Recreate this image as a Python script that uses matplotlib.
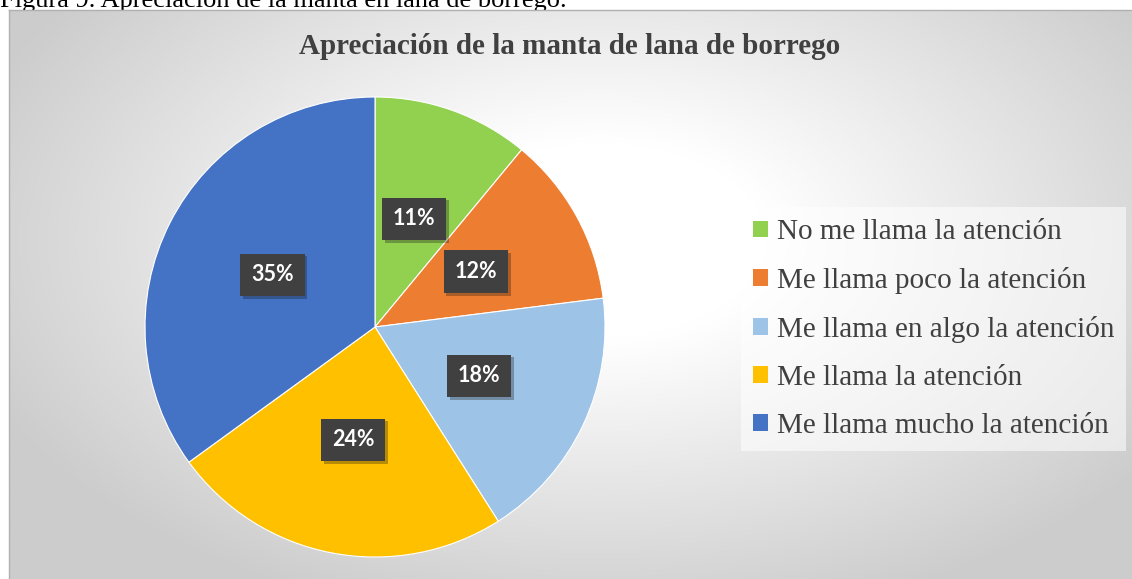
import numpy as np
import matplotlib.pyplot as plt
import matplotlib.patheffects as pe

# Data
categorias = ['No me llama la atención', 'Me llama poco la atención',
              'Me llama en algo la atención', 'Me llama la atención',
              'Me llama mucho la atención']
porcentajes = [11, 12, 18, 24, 35]
colores = ['#92D050', '#ED7D31', '#9DC3E6', '#FFC000', '#4472C4']
titulo = 'Apreciación de la manta de lana de borrego'
leyenda_figura = 'Figura 9. Apreciación de la manta en lana de borrego.'

W, H = 1132, 579
fig = plt.figure(figsize=(W / 100, H / 100), dpi=100)
fig.patch.set_facecolor('white')

# caption (cut off by the chart box, as in the source document)
fig.text(0.0, 1 - 7 / H, leyenda_figura, fontsize=19, family='Liberation Serif',
         color='black', va='baseline', ha='left', zorder=1)

# background with radial gradient
bg = fig.add_axes([9 / W, 0, 1 - 9 / W, (H - 10) / H], zorder=5)
xs = np.linspace(9, W, 400)
ys = np.linspace(10, H, 220)
X, Y = np.meshgrid(xs, ys)
d = np.sqrt(((X - 600) / 560) ** 2 + ((Y - 240) / 330) ** 2)
c = 1 - 0.2 * np.clip((d - 0.3) / 0.9, 0, 1)
img = np.dstack([c, c, c])
bg.imshow(img, extent=(0, 1, 0, 1), aspect='auto', origin='upper')
bg.set_xlim(0, 1)
bg.set_ylim(0, 1)
bg.set_xticks([])
bg.set_yticks([])
for s in ['right', 'bottom']:
    bg.spines[s].set_visible(False)
for s in ['top', 'left']:
    bg.spines[s].set_color('#b0b0b0')
    bg.spines[s].set_linewidth(1)

fig.text(570 / W, 1 - 47 / H, titulo, ha='center', va='center', fontsize=21,
         fontweight='bold', family='Liberation Serif', color='#404040', zorder=10)

# pie
cx, cy, r = 375, 327, 230
ax = fig.add_axes([(cx - r) / W, (H - cy - r) / H, 2 * r / W, 2 * r / H], zorder=6)
ax.patch.set_alpha(0)
wedges, texts, autotexts = ax.pie(
    porcentajes, colors=colores, startangle=90, counterclock=False, radius=1,
    autopct='%1.0f%%', pctdistance=0.5,
    wedgeprops=dict(edgecolor='white', linewidth=0.8),
    textprops=dict(color='white', fontsize=15.5, fontweight='bold', family='Lato'))
for t in autotexts:
    t.set_bbox(dict(boxstyle='square,pad=0.5', facecolor='#404040', edgecolor='none'))
    t.get_bbox_patch().set_path_effects(
        [pe.SimplePatchShadow(offset=(2, -2), alpha=0.3), pe.Normal()])
ax.set_xlim(-1, 1)
ax.set_ylim(-1, 1)
ax.set_aspect('equal')
ax.axis('off')

leg = fig.legend(wedges, categorias, loc='upper left',
                 bbox_to_anchor=(741 / W, 1 - 207 / H),
                 prop=dict(family='Liberation Serif', size=21),
                 frameon=True, fancybox=False, handlelength=0.5,
                 handleheight=0.5, handletextpad=0.3, labelspacing=0.75,
                 borderpad=0.42, borderaxespad=0)
leg.set_zorder(7)
leg.get_frame().set_facecolor('white')
leg.get_frame().set_alpha(0.55)
leg.get_frame().set_edgecolor('none')
for t in leg.get_texts():
    t.set_color('#404040')
for h in leg.legend_handles:
    h.set_edgecolor('none')

fig.savefig('out.png', dpi=100)
